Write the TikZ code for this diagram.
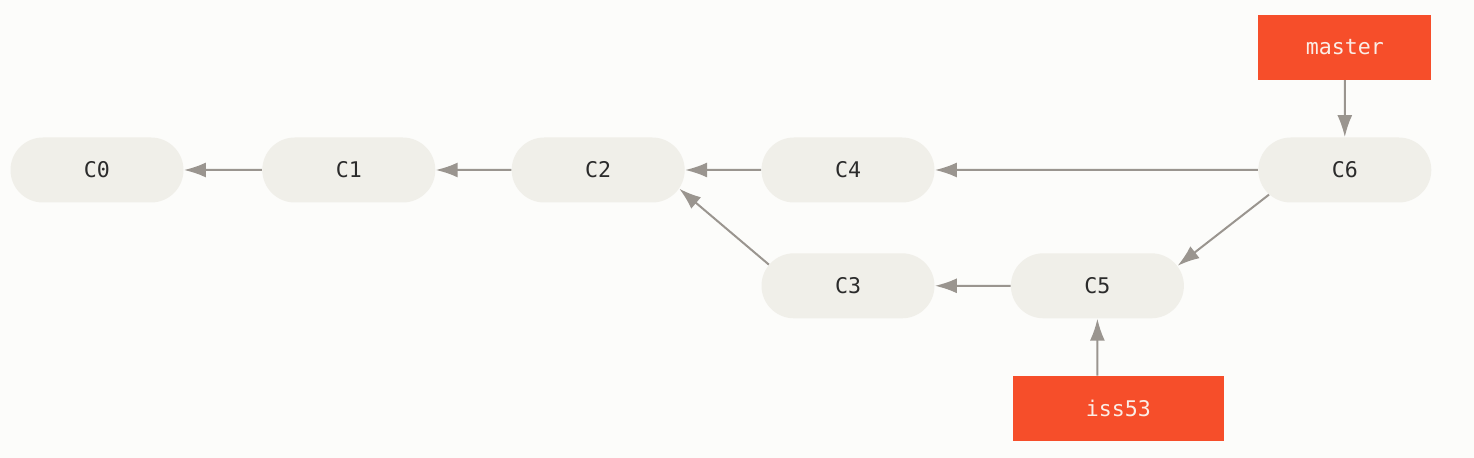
\documentclass[tikz,border=0pt]{standalone}
\usepackage{fontspec}
\setmonofont{DejaVu Sans Mono}
\usepackage{xcolor}
\usetikzlibrary{shapes.misc}
\usetikzlibrary{arrows.meta}
\usetikzlibrary{positioning}
\definecolor{GIT-BG}{HTML}{FCFCFA}
\definecolor{GIT-COMMIT}{HTML}{F0EFE9}
\definecolor{GIT-BRANCH}{HTML}{F64E2A}
\definecolor{GIT-ARROW}{HTML}{9A958F}
\definecolor{GIT-TEXT}{HTML}{2B2B2B}
\definecolor{GIT-LABEL}{HTML}{FBEDE6}

\begin{document}
\begin{tikzpicture}[x=0.5pt,y=0.5pt,
		every path/.style={>={Latex[length=11pt,width=7.5pt]}},
		commit/.style={rounded rectangle,fill=GIT-COMMIT,minimum width=86.5pt,minimum height=32.5pt,inner sep=0pt,text=GIT-TEXT,font=\ttfamily\fontsize{10.8}{12}\selectfont},
		branch/.style={rectangle,fill=GIT-BRANCH,minimum width=86.5pt,minimum height=32.5pt,inner sep=0pt,text=GIT-LABEL,font=\ttfamily\fontsize{10.8}{12}\selectfont},
		parent/.style={->,draw=GIT-ARROW,fill=GIT-ARROW,line width=1pt},
		node distance=39pt]
			% background
			\fill[GIT-BG] (0,0) rectangle (1474,-458);
			\useasboundingbox (0,0) rectangle (1474,-458);
		
			% draw commits
			\node (C0) at (97,-170) [commit] {C0};
			\node (C1) [commit,right=39pt of C0] {C1};
			\node (C2) [commit,right=37.8pt of C1] {C2};
			\node (C4) [commit,right=38pt of C2] {C4};
			\node (C6) [commit,right=161.5pt of C4] {C6};
			\node (C3) [commit,below=25pt of C4] {C3};
			\node (C5) [commit,right=37.8pt of C3] {C5};
		
			% draw branches
			\node (master) [branch,above=28.5pt of C6] {master};
			\node (iss53) [branch,below=28.5pt of C5,xshift=10.5pt,minimum width=105.5pt] {iss53};
		
			% draw arrows
			\draw[parent] (C1) to (C0);
			\draw[parent] (C2) to (C1);
			\draw[parent] (C4) to (C2);
			\draw[parent] (C6) to (C4);
			\draw[parent] (C3.165) to (C2.-13);
			\draw[parent] (C5) to (C3);
			\draw[parent] (C6.198) to (C5.14);
			\draw[parent] (master) to (C6);
			\draw[parent] (C5 |- iss53.north) to (C5);
		\end{tikzpicture}
\end{document}
